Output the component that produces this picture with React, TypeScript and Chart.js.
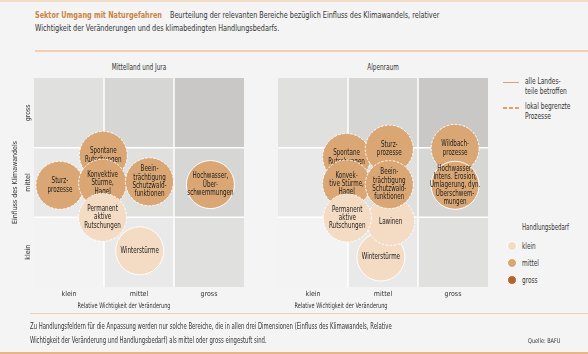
import React, { useEffect, useRef } from 'react';
import { Chart, registerables } from 'chart.js';
Chart.register(...registerables);

const FONT = "'Liberation Sans Narrow', 'DejaVu Sans Condensed', 'Roboto', sans-serif";
const LEVELS = ['klein', 'mittel', 'gross'];
const TICK_VALUES = [0.5, 1.5, 2.5];

// Mittelland und Jura (draw order: bottom -> top)
const leftLabels = ['Sturz-|prozesse', 'Spontane|Rutschungen', 'Konvektive|Stürme,|Hagel', 'Beein-|trächtigung|Schutzwald-|funktionen', 'Hochwasser,|Über-|schwemmungen', 'Winterstürme', 'Permanent|aktive|Rutschungen'];
const leftImportance = [0.37, 0.99, 0.98, 1.65, 2.52, 1.51, 0.98];
const leftInfluence = [1.46, 1.89, 1.49, 1.51, 1.47, 0.52, 1.0];
const leftNeed = ['mittel', 'mittel', 'mittel', 'mittel', 'mittel', 'klein', 'klein'];
const leftScope = ['lokal', 'lokal', 'lokal', 'lokal', 'alle', 'alle', 'lokal'];

// Alpenraum (draw order: bottom -> top)
const rightLabels = ['Spontane|Rutschungen', 'Sturz-|prozesse', 'Konvek-|tive Stürme,|Hagel', 'Winterstürme', 'Lawinen', 'Beein-|trächtigung|Schutzwald-|funktionen', 'Permanent|aktive|Rutschungen', 'Wildbach-|prozesse', 'Hochwasser,|Intens. Erosion,|Umlagerung, dyn.|Überschwem-|mungen'];
const rightImportance = [0.98, 1.59, 0.98, 1.47, 1.61, 1.59, 0.99, 2.53, 2.53];
const rightInfluence = [1.86, 1.98, 1.48, 0.43, 0.94, 1.47, 0.99, 1.99, 1.46];
const rightNeed = ['mittel', 'mittel', 'mittel', 'klein', 'klein', 'mittel', 'klein', 'mittel', 'mittel'];
const rightScope = ['lokal', 'lokal', 'lokal', 'alle', 'lokal', 'lokal', 'lokal', 'lokal', 'alle'];

const NEED_COLORS: Record<string, string> = { klein: '#f4dbc3', mittel: '#d9a674', gross: '#b9632c' };
const CELL_COLORS = ['#f3f3f3', '#e9e9e9', '#e0e0df', '#d6d6d5', '#c9c8c6'];
const SX = 0.8;

const cellPlugin = {
  id: 'cells',
  beforeDatasetsDraw(chart: any) {
    const { ctx, scales } = chart;
    const x = scales.x, y = scales.y;
    ctx.save();
    for (let i = 0; i < 3; i++) {
      for (let j = 0; j < 3; j++) {
        const x0 = x.getPixelForValue(i), x1 = x.getPixelForValue(i + 1);
        const y0 = y.getPixelForValue(j + 1), y1 = y.getPixelForValue(j);
        ctx.fillStyle = CELL_COLORS[i + j];
        ctx.fillRect(x0, y0, x1 - x0, y1 - y0);
      }
    }
    ctx.strokeStyle = '#ffffff';
    ctx.lineWidth = 1.5;
    for (const v of [1, 2]) {
      const px = x.getPixelForValue(v);
      ctx.beginPath(); ctx.moveTo(px, y.getPixelForValue(0)); ctx.lineTo(px, y.getPixelForValue(3)); ctx.stroke();
      const py = y.getPixelForValue(v);
      ctx.beginPath(); ctx.moveTo(x.getPixelForValue(0), py); ctx.lineTo(x.getPixelForValue(3), py); ctx.stroke();
    }
    ctx.restore();
  },
};

const bubbleLabelPlugin = {
  id: 'bubbleLabels',
  afterDatasetDraw(chart: any, args: any) {
    const ds = chart.data.datasets[args.index];
    const el = args.meta.data[0];
    if (!el) return;
    const ctx = chart.ctx;
    const r = el.options.radius;
    ctx.save();
    ctx.beginPath();
    ctx.arc(el.x, el.y, r, 0, Math.PI * 2);
    ctx.strokeStyle = '#ffffff';
    ctx.lineWidth = 1;
    ctx.setLineDash(ds.dashed ? [2.5, 1.5] : []);
    ctx.stroke();
    ctx.setLineDash([]);
    const lines: string[] = ds.lines;
    const lh = 8.3;
    ctx.font = `8px ${FONT}`;
    ctx.fillStyle = '#1c1c1c';
    ctx.textAlign = 'center';
    ctx.textBaseline = 'middle';
    const start = el.y - ((lines.length - 1) * lh) / 2;
    ctx.translate(el.x, 0);
    ctx.scale(0.78, 1);
    lines.forEach((t, k) => ctx.fillText(t, 0, start + k * lh));
    ctx.restore();
  },
};

function buildDatasets(labels: string[], imp: number[], inf: number[], need: string[], scope: string[]) {
  const n = labels.length;
  return labels.map((lab, i) => ({
    label: lab.replace(/\|/g, ' '),
    data: [{ x: imp[i], y: inf[i] }],
    backgroundColor: NEED_COLORS[need[i]],
    borderWidth: 0,
    radius: 24,
    order: n - i,
    lines: lab.split('|'),
    dashed: scope[i] === 'lokal',
  }));
}

function axisX() {
  return {
    type: 'linear' as const,
    min: 0,
    max: 3,
    grid: { display: false, drawTicks: false },
    border: { display: false },
    afterBuildTicks: (s: any) => { s.ticks = TICK_VALUES.map((v) => ({ value: v })); },
    afterFit: (s: any) => { s.height = 23; },
    ticks: {
      padding: 3,
      color: '#333333',
      font: { family: FONT, size: 7 },
      callback: (v: any) => LEVELS[Math.floor(Number(v))],
    },
  };
}

function PanelChart(props: { labels: string[]; imp: number[]; inf: number[]; need: string[]; scope: string[]; showY: boolean; width: number; padLeft: number }) {
  const ref = useRef<HTMLCanvasElement>(null);
  useEffect(() => {
    const canvas = ref.current!;
    const yAxis: any = {
      type: 'linear',
      min: 0,
      max: 3,
      display: props.showY,
      grid: { display: false, drawTicks: false },
      border: { display: false },
      afterBuildTicks: (s: any) => { s.ticks = TICK_VALUES.map((v) => ({ value: v })); },
      ticks: {
        minRotation: 90,
        maxRotation: 90,
        crossAlign: 'center',
        padding: -3,
        color: '#333333',
        font: { family: FONT, size: 7 },
        callback: (v: any) => LEVELS[Math.floor(Number(v))],
      },
      title: {
        display: true,
        text: 'Einfluss des Klimawandels',
        color: '#333333',
        font: { family: FONT, size: 7 },
        padding: { top: 11, bottom: 0 },
      },
    };
    if (props.showY) yAxis.afterFit = (s: any) => { s.width = 34; };
    const chart = new Chart(canvas, {
      type: 'bubble',
      data: { datasets: buildDatasets(props.labels, props.imp, props.inf, props.need, props.scope) as any },
      options: {
        responsive: false,
        maintainAspectRatio: false,
        animation: false,
        events: [],
        layout: { autoPadding: false, padding: { top: 8, left: props.padLeft, right: props.showY ? 6 : 0, bottom: 0 } },
        plugins: { legend: { display: false }, tooltip: { enabled: false } },
        scales: { x: axisX() as any, y: yAxis },
      },
      plugins: [cellPlugin, bubbleLabelPlugin],
    });
    return () => chart.destroy();
  }, []);
  return <canvas ref={ref} width={props.width} height={240} style={{ width: props.width, height: 240, display: 'block' }} />;
}

const txt: React.CSSProperties = { position: 'absolute', fontFamily: FONT, color: '#333333', whiteSpace: 'nowrap' };
const leftScale = (k: number): React.CSSProperties => ({ transform: `scaleX(${k})`, transformOrigin: '0 0' });
const centerScale = (k: number): React.CSSProperties => ({ transform: `translate(-50%, -50%) scaleX(${k})` });
const midLeftScale = (k: number): React.CSSProperties => ({ transform: `translateY(-50%) scaleX(${k})`, transformOrigin: '0 50%' });

export default function App() {
  useEffect(() => {
    document.body.style.margin = '0';
  }, []);
  return (
    <div style={{ position: 'relative', width: 588, height: 354, background: '#f4f4f4', overflow: 'hidden' }}>
      <div style={{ position: 'absolute', left: 0, top: 0, width: 588, height: 2, background: '#f3dcc6' }} />
      <div style={{ ...txt, left: 35, top: 8.5, fontSize: 9, lineHeight: '13px', ...leftScale(SX) }}>
        <span style={{ color: '#c98444', fontWeight: 'bold', marginRight: 10 }}>Sektor Umgang mit Naturgefahren</span>
        Beurteilung der relevanten Bereiche bezüglich Einfluss des Klimawandels, relativer
        <br />
        Wichtigkeit der Veränderungen und des klimabedingten Handlungsbedarfs.
      </div>
      <div style={{ position: 'absolute', left: 35, top: 50, width: 553, height: 1.5, background: '#f0d0b0' }} />

      <div style={{ ...txt, left: 139, top: 67, fontSize: 8, ...centerScale(0.8) }}>Mittelland und Jura</div>
      <div style={{ ...txt, left: 383, top: 67, fontSize: 8, ...centerScale(0.8) }}>Alpenraum</div>

      <div style={{ position: 'absolute', left: 0, top: 70 }}>
        <PanelChart labels={leftLabels} imp={leftImportance} inf={leftInfluence} need={leftNeed} scope={leftScope} showY={true} width={250} padLeft={0} />
      </div>
      <div style={{ position: 'absolute', left: 270, top: 70 }}>
        <PanelChart labels={rightLabels} imp={rightImportance} inf={rightInfluence} need={rightNeed} scope={rightScope} showY={false} width={218} padLeft={8} />
      </div>

      <div style={{ ...txt, left: 124, top: 305, fontSize: 7.5, ...centerScale(0.74) }}>Relative Wichtigkeit der Veränderung</div>
      <div style={{ ...txt, left: 341, top: 305, fontSize: 7.5, ...centerScale(0.74) }}>Relative Wichtigkeit der Veränderung</div>

      {/* Legend */}
      <div style={{ position: 'absolute', left: 503, top: 81.5, width: 16, height: 1.5, background: '#e0a068' }} />
      <div style={{ ...txt, left: 525, top: 76.5, fontSize: 8, lineHeight: '10px', ...leftScale(0.82) }}>alle Landes-<br />teile betroffen</div>
      <div style={{ position: 'absolute', left: 503, top: 107, width: 16, height: 1.5, background: 'repeating-linear-gradient(to right, #e0a068 0 4px, transparent 4px 6px)' }} />
      <div style={{ ...txt, left: 525, top: 102, fontSize: 8, lineHeight: '10px', ...leftScale(0.82) }}>lokal begrenzte<br />Prozesse</div>
      <div style={{ ...txt, left: 521.5, top: 226.5, fontSize: 8, ...midLeftScale(0.76) }}>Handlungsbedarf</div>
      {LEVELS.map((lv, i) => (
        <React.Fragment key={lv}>
          <div style={{ position: 'absolute', left: 511.5 - 5, top: 245.5 + i * 17.2 - 5, width: 10, height: 10, borderRadius: '50%', background: NEED_COLORS[lv], boxSizing: 'border-box', border: '1px solid #ffffff' }} />
          <div style={{ ...txt, left: 521.5, top: 245.5 + i * 17.2, fontSize: 8, ...midLeftScale(0.8) }}>{lv}</div>
        </React.Fragment>
      ))}

      <div style={{ position: 'absolute', left: 30, top: 312.5, width: 558, height: 1.5, background: '#f0d0b0' }} />
      <div style={{ ...txt, left: 30, top: 320, fontSize: 8, lineHeight: '14px', ...leftScale(0.74) }}>
        Zu Handlungsfeldern für die Anpassung werden nur solche Bereiche, die in allen drei Dimensionen (Einfluss des Klimawandels, Relative
        <br />
        Wichtigkeit der Veränderung und Handlungsbedarf) als mittel oder gross eingestuft sind.
      </div>
      <div style={{ ...txt, left: 528, top: 341, fontSize: 6.5, ...midLeftScale(0.85) }}>Quelle: BAFU</div>
      <div style={{ position: 'absolute', left: 0, top: 352, width: 588, height: 2, background: '#e9b585' }} />
    </div>
  );
}
